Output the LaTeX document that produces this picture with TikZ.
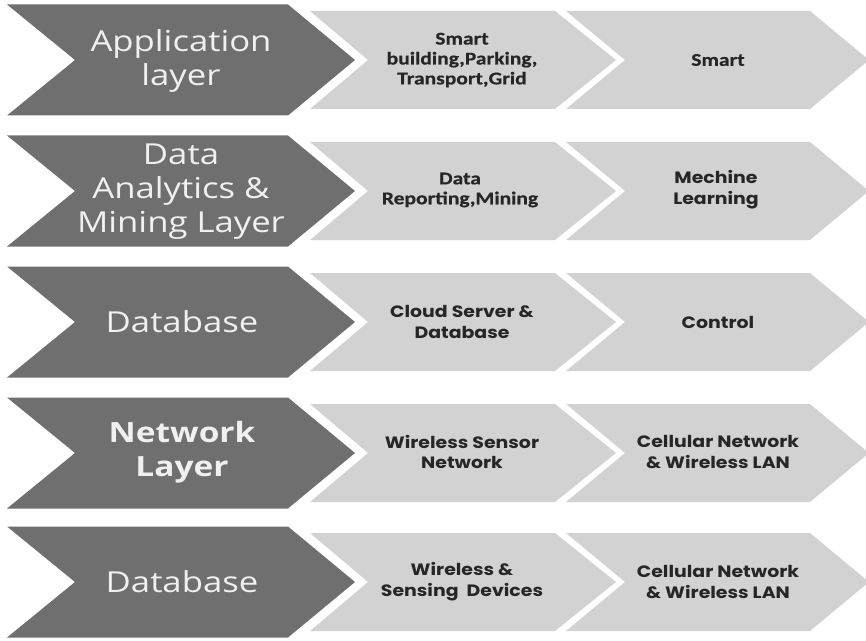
\documentclass[tikz,border=0pt]{standalone}
\usepackage{fontspec}
\setmainfont{Open Sans}[FakeStretch=1.2]
\newfontfamily\calfont{Carlito}[FakeStretch=1.2, BoldFeatures={FakeBold=0.6}]
\newfontfamily\geofont{Poppins}[FakeStretch=1.15]
\definecolor{darkfill}{HTML}{6F6F6F}
\definecolor{lightfill}{HTML}{D2D2D2}
\definecolor{darktext}{HTML}{F0F0F0}
\definecolor{lighttext}{HTML}{262626}
\tikzset{
  darkchev/.style={fill=darkfill},
  lightchev/.style={fill=lightfill},
  layertext/.style={text=darktext, align=center, inner sep=0pt,
    font=\fontsize{29}{34}\selectfont},
  calitem/.style={text=lighttext, align=center, inner sep=0pt,
    font=\calfont\bfseries\fontsize{18}{20}\selectfont},
  geoitem/.style={text=lighttext, align=center, inner sep=0pt,
    font=\geofont\bfseries\fontsize{16.5}{21}\selectfont},
}
% chevron: left x, notch x, shoulder x, tip x, centre y, half height
\newcommand{\chevron}[7]{%
  \fill[#1] (#2,#6-#7) -- (#4,#6-#7) -- (#5,#6) -- (#4,#6+#7)
    -- (#2,#6+#7) -- (#3,#6) -- cycle;}
\begin{document}
\begin{tikzpicture}[x=1bp,y=-1bp]
\useasboundingbox (0,0) rectangle (866,641);
\foreach \yc [count=\i] in {60,191,322,453,582}{
  \chevron{darkchev}{7}{75}{288}{355}{\yc}{55.5}
  \chevron{lightchev}{310}{368}{555}{616}{\yc}{49}
  \chevron{lightchev}{566}{625}{810}{869}{\yc}{49}
}
% row 1
\node[layertext] (l1) at (181,61) {Application\\layer};
\node[calitem] (a1) at (462,60) {Smart\\building,Parking,\\Transport,Grid};
\node[calitem] (b1) at (718,60) {Smart};
% row 2
\node[layertext] (l2) at (181,192) {Data\\Analytics \&\\Mining Layer};
\node[calitem] (a2) at (460,190) {Data\\Reporting,Mining};
\node[geoitem] (b2) at (716,190) {Mechine\\Learning};
% row 3
\node[layertext] (l3) at (182,322) {Database};
\node[geoitem] (a3) at (462,322) {Cloud Server \&\\Database};
\node[geoitem] (b3) at (718,322) {Control};
% row 4
\node[layertext, font=\bfseries\fontsize{28}{34}\selectfont] (l4) at (182,452) {Network\\Layer};
\node[geoitem] (a4) at (462,452) {Wireless Sensor\\Network};
\node[geoitem] (b4) at (718,452) {Cellular Network\\\& Wireless LAN};
% row 5
\node[layertext] (l5) at (182,582) {Database};
\node[geoitem] (a5) at (462,582) {Wireless \&\\Sensing\ \ Devices};
\node[geoitem] (b5) at (718,582) {Cellular Network\\\& Wireless LAN};
\end{tikzpicture}
\end{document}
